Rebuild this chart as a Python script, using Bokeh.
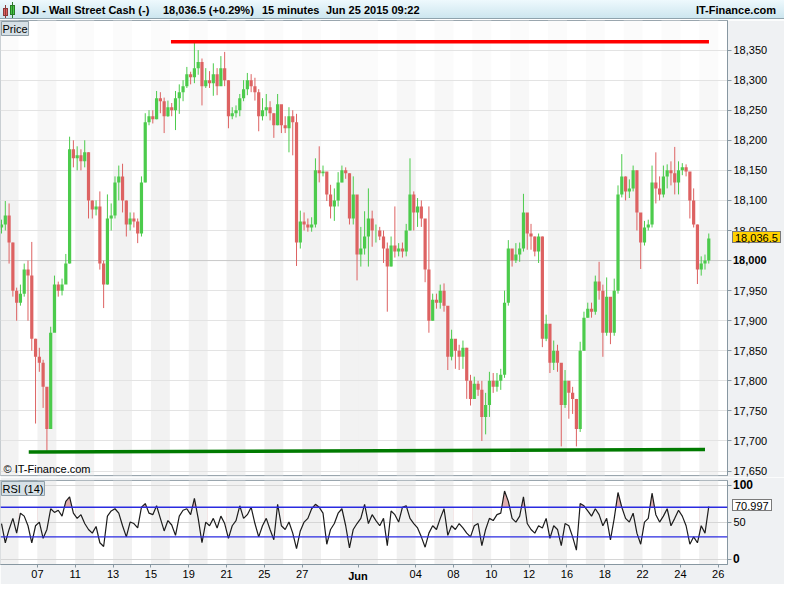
from bokeh.plotting import figure
from bokeh.models import Div, Label, Span, FixedTicker, NumeralTickFormatter, Range1d
from bokeh.layouts import column
from bokeh.embed import file_html
from bokeh.resources import INLINE

FONT = "Liberation Sans"

# ---------------- data ----------------
# calendar day numbers of the trading days shown (index -2 = May 5, 0 = May 7)
day_num = [5, 6, 7, 8, 11, 12, 13, 14, 15, 18, 19, 20, 21, 22, 25, 26, 27, 28, 29,
           1, 2, 3, 4, 5, 8, 9, 10, 11, 12, 15, 16, 17, 18, 19, 22, 23, 24, 25, 26]
day_first_index = -2

tick_pos = [0, 2, 4, 6, 8, 10, 12, 14, 17, 20, 22, 24, 26, 28, 30, 32, 34, 36]
tick_lab = ["07", "11", "13", "15", "19", "21", "25", "27", "Jun", "04", "08", "10",
            "12", "16", "18", "22", "24", "26"]

price_ticks = [17650, 17700, 17750, 17800, 17850, 17900, 17950, 18000,
               18050, 18100, 18150, 18200, 18250, 18300, 18350]
rsi_ticks = [0, 50, 100]

bar_start = -1.9          # first bar position (trading days from May 7)
bars_per_day = 5
first_open = 18055

closes = [18060, 18075,
          18030, 17950, 17930, 17945, 17985, 17975, 17870, 17840, 17830, 17790,
          17720, 17880, 17960, 17950, 17960, 17995, 18185, 18170, 18175, 18165,
          18180, 18100, 18085, 18090, 17995, 17960, 18070, 18075, 18130, 18140,
          18100, 18060, 18070, 18065, 18045, 18130, 18230, 18240, 18235, 18270,
          18265, 18240, 18255, 18250, 18270, 18280, 18290, 18310, 18305, 18320,
          18330, 18290, 18300, 18295, 18310, 18290, 18320, 18300, 18240, 18245,
          18250, 18270, 18285, 18300, 18290, 18280, 18240, 18250, 18255, 18245,
          18225, 18260, 18225, 18220, 18240, 18230, 18030, 18065, 18060, 18055,
          18060, 18150, 18145, 18148, 18110, 18090, 18100, 18130, 18150, 18145,
          18070, 18110, 18010, 18020, 18040, 18070, 18050, 18050, 18040, 18020,
          17990, 18025, 18015, 18020, 18015, 18050, 18110, 18080, 18090, 18070,
          17985, 17900, 17935, 17930, 17950, 17925, 17840, 17870, 17850, 17840,
          17855, 17800, 17770, 17795, 17785, 17740, 17760, 17800, 17790, 17800,
          17810, 17930, 18020, 18000, 18010, 18020, 18080, 18045, 18040, 18015,
          18040, 17870, 17895, 17830, 17850, 17830, 17760, 17800, 17780, 17770,
          17720, 17850, 17905, 17920, 17915, 17965, 17950, 17880, 17940, 17880,
          17950, 18110, 18140, 18115, 18120, 18150, 18080, 18030, 18055, 18060,
          18130, 18120, 18110, 18140, 18150, 18145, 18130, 18150, 18155, 18148,
          18100, 18060, 17985, 17995, 18000, 18036.5]

highs = [18068, 18099,
         18095, 18030, 17955, 17960, 17995, 18000, 18031, 17870, 17855, 17835,
         17760, 17890, 17975, 17965, 17970, 18011, 18206, 18200, 18190, 18185,
         18200, 18180, 18100, 18100, 18115, 18000, 18110, 18095, 18140, 18158,
         18161, 18100, 18080, 18080, 18070, 18140, 18245, 18250, 18250, 18282,
         18280, 18271, 18266, 18262, 18282, 18293, 18300, 18322, 18314, 18362,
         18350, 18336, 18320, 18315, 18328, 18320, 18340, 18347, 18300, 18255,
         18258, 18277, 18300, 18312, 18310, 18304, 18285, 18270, 18277, 18265,
         18245, 18277, 18245, 18240, 18255, 18250, 18244, 18083, 18080, 18070,
         18072, 18170, 18190, 18158, 18140, 18126, 18120, 18147, 18158, 18155,
         18145, 18140, 18100, 18056, 18082, 18120, 18083, 18060, 18056, 18050,
         18030, 18040, 18090, 18029, 18030, 18061, 18170, 18115, 18104, 18100,
         18020, 18090, 17945, 17945, 17960, 17962, 17915, 17885, 17865, 17860,
         17867, 17855, 17810, 17807, 17800, 17800, 17780, 17815, 17813, 17813,
         17820, 17950, 18034, 18015, 18029, 18030, 18111, 18075, 18061, 18040,
         18045, 18040, 17910, 17880, 17867, 17860, 17820, 17818, 17795, 17790,
         17770, 17865, 17915, 17930, 17930, 17975, 17998, 17960, 17972, 17920,
         17970, 18125, 18177, 18140, 18135, 18158, 18150, 18070, 18066, 18068,
         18158, 18180, 18140, 18158, 18160, 18165, 18189, 18165, 18162, 18160,
         18145, 18120, 18060, 18007, 18010, 18045]

lows = [18045, 18050,
        17995, 17940, 17900, 17925, 17940, 17900, 17850, 17729, 17815, 17755,
        17684, 17720, 17910, 17940, 17942, 17965, 17995, 18155, 18150, 18150,
        18155, 18070, 18070, 18075, 17985, 17921, 17960, 18050, 18070, 18100,
        18080, 18040, 18050, 18055, 18029, 18040, 18130, 18225, 18228, 18235,
        18245, 18212, 18239, 18240, 18217, 18244, 18265, 18287, 18293, 18295,
        18309, 18258, 18287, 18287, 18274, 18275, 18293, 18290, 18220, 18235,
        18238, 18240, 18265, 18275, 18280, 18266, 18215, 18233, 18240, 18233,
        18204, 18225, 18212, 18212, 18180, 18175, 17991, 18020, 18050, 18048,
        18048, 18055, 18130, 18140, 18099, 18070, 18066, 18090, 18130, 18136,
        18060, 18060, 17967, 17990, 18010, 17990, 18023, 18030, 18034, 17996,
        17915, 17990, 18005, 18007, 18005, 18007, 18050, 18050, 18056, 18056,
        17964, 17880, 17900, 17920, 17920, 17915, 17818, 17834, 17820, 17818,
        17820, 17770, 17759, 17770, 17775, 17700, 17711, 17740, 17780, 17782,
        17785, 17805, 17925, 17990, 17996, 17998, 18015, 18018, 18018, 18007,
        17996, 17856, 17866, 17813, 17818, 17815, 17691, 17755, 17737, 17745,
        17691, 17715, 17850, 17905, 17905, 17910, 17935, 17840, 17875, 17861,
        17875, 17945, 18105, 18100, 18104, 18115, 18050, 17986, 18025, 18050,
        18055, 18095, 18100, 18105, 18120, 18125, 18110, 18110, 18142, 18140,
        18070, 18055, 17961, 17975, 17985, 17995]

rsi = [48, 22,
       40, 55, 35, 62, 58, 45, 22, 45, 50, 28, 40, 68, 63, 66, 58, 78, 84, 62, 55, 60,
       48, 40, 35, 44, 22, 17, 58, 65, 68, 62, 45, 30, 50, 48, 42, 70, 75, 62, 60, 72,
       55, 38, 52, 46, 32, 58, 66, 68, 60, 82, 55, 22, 50, 45, 55, 42, 58, 48, 28, 45,
       52, 72, 55, 60, 70, 48, 30, 45, 55, 40, 26, 74, 45, 40, 50, 35, 14, 38, 50, 55,
       68, 74, 70, 62, 20, 40, 48, 62, 68, 45, 15, 40, 48, 55, 74, 48, 60, 52, 45, 55,
       18, 65, 60, 50, 70, 72, 55, 48, 42, 30, 16, 35, 45, 40, 55, 68, 32, 45, 40, 48,
       42, 35, 30, 45, 48, 18, 40, 55, 52, 60, 62, 92, 78, 55, 50, 58, 84, 48, 40, 35,
       45, 42, 55, 28, 45, 40, 18, 48, 45, 30, 12, 75, 72, 65, 58, 68, 60, 45, 55, 26,
       55, 90, 70, 55, 50, 62, 35, 20, 50, 55, 89, 60, 50, 58, 68, 45, 55, 66, 58, 45,
       20, 30, 22, 45, 35, 70.997]

# drawn trend lines (trading-day position, price)
resist_x = [7.06, 35.51]
resist_y = [18364, 18364]
support_x = [-0.46, 35.30]
support_y = [17681.5, 17686]

last_price = 18036.5
last_rsi = 70.997

# ---------------- styling / geometry ----------------
UP = "#4ccb4c"
DOWN = "#dd6262"
BAND = "#f2f2f2"
BORDER = "#eff1f3"
AXIS = "#8797a1"

W = 784
HEAD_H = 20
PRICE_FRAME_H = 455
PRICE_GAP = 2
RSI_TOP = 3
RSI_FRAME_H = 84
RSI_BOTTOM = 20
RIGHT_W = 57
FRAME_W = W - RIGHT_W

n = len(closes)
bar_x = [bar_start + i / bars_per_day for i in range(n)]
opens = [first_open] + closes[:-1]
colors = [UP if c >= o else DOWN for o, c in zip(opens, closes)]
day_idx = [day_first_index + k for k in range(len(day_num))]
grey_days = [d for d, m in zip(day_idx, day_num) if m % 2 == 1]

X0, X1 = -1.954, 36.49
PY0, PY1 = 17642.6, 18399.2
RY0, RY1 = -7.4, 106.2
x_rng = Range1d(X0, X1)


def style_axis(ax):
    ax.axis_line_color = AXIS
    ax.major_tick_line_color = AXIS
    ax.minor_tick_line_color = None
    ax.major_tick_out = 4
    ax.major_tick_in = 0
    ax.major_label_text_font = FONT
    ax.major_label_text_font_size = "11px"
    ax.major_label_text_color = "#000000"
    ax.major_label_standoff = 2


def lab(text, x, y, **kw):
    base = dict(text=text, x=x, y=y, text_font=FONT, text_font_size="11px",
                text_color="#000000")
    base.update(kw)
    return Label(**base)


# page positions (px) of things drawn over the scales, from the same ranges
price_px = PRICE_FRAME_H / (PY1 - PY0)
rsi_px = RSI_FRAME_H / (RY1 - RY0)
day_px = FRAME_W / (X1 - X0)
rsi_frame_top = HEAD_H + PRICE_FRAME_H + PRICE_GAP + RSI_TOP


def y_price(v):
    return HEAD_H + (PY1 - v) * price_px


def y_rsi(v):
    return rsi_frame_top + (RY1 - v) * rsi_px


label_left = FRAME_W + 4 + 2
box_h = 14
box_style = ("position:absolute;left:%dpx;top:%dpx;height:%dpx;line-height:%dpx;"
             "padding:0 2px;border:1px solid #7a7a7a;font-weight:normal;font-size:11px;")
bold_style = ("position:absolute;left:%dpx;top:%dpx;line-height:14px;"
              "font-weight:bold;font-size:%s;")
jun_x = (tick_pos[tick_lab.index("Jun")] - X0) * day_px
jun_top = rsi_frame_top + RSI_FRAME_H + 3 + 2

overlay = (
    '<span style="' + box_style % (label_left - 1, round(y_price(last_price) - box_h / 2), box_h - 2, box_h - 2)
    + 'background:#ffd200;">18,036.5</span>'
    + '<span style="' + box_style % (label_left - 1, round(y_rsi(last_rsi) - box_h / 2), box_h - 2, box_h - 2)
    + 'background:#ffffff;">70.997</span>'
    + '<span style="' + bold_style % (label_left, round(y_price(18000) - 7), "11px") + '">18,000</span>'
    + '<span style="' + bold_style % (label_left, round(y_rsi(100) - 7), "12px") + '">100</span>'
    + '<span style="' + bold_style % (label_left, round(y_rsi(0) - 7), "12px") + '">0</span>'
    + '<span style="' + bold_style % (round(jun_x - 20), jun_top, "11px")
    + 'width:40px;text-align:center;">Jun</span>'
)

# ---------------- header (with the value boxes overlaid on the scales) ----------------
header_html = (
    '<div style="position:relative;width:784px;height:19px;'
    'background:linear-gradient(#eef9fd,#cde6ef);border-bottom:1px solid #8fa3ad;'
    "font-family:'Liberation Sans',Arial,sans-serif;font-weight:bold;font-size:11px;"
    'color:#000;line-height:20px;white-space:nowrap;">'
    '<span style="position:absolute;left:3px;top:8px;width:5px;height:8px;background:#e06060;border:1px solid #8a3a3a;"></span>'
    '<span style="position:absolute;left:5px;top:5px;width:1px;height:13px;background:#8a3a3a;"></span>'
    '<span style="position:absolute;left:10px;top:5px;width:5px;height:10px;background:#44cc44;border:1px solid #2a7a2a;"></span>'
    '<span style="position:absolute;left:12px;top:2px;width:1px;height:16px;background:#2a7a2a;"></span>'
    '<span style="position:absolute;left:22px;top:0;">DJI - Wall Street Cash (-)</span>'
    '<span style="position:absolute;left:163px;top:0;">18,036.5 (+0.29%)</span>'
    '<span style="position:absolute;left:262px;top:0;">15 minutes</span>'
    '<span style="position:absolute;left:326px;top:0;">Jun 25 2015 09:22</span>'
    '<span style="position:absolute;right:8px;top:0;">IT-Finance.com</span>'
    + overlay +
    '</div>'
)
header = Div(text=header_html, width=W, height=HEAD_H, margin=0,
             styles={"position": "relative", "z-index": "10", "overflow": "visible"})

# ---------------- price panel ----------------
p = figure(width=W, height=PRICE_FRAME_H + PRICE_GAP, x_range=x_rng, y_range=Range1d(PY0, PY1),
           output_backend="svg", toolbar_location=None,
           x_axis_location=None, y_axis_location="right",
           min_border_left=0, min_border_right=RIGHT_W, min_border_top=0,
           min_border_bottom=PRICE_GAP)
p.background_fill_color = "white"
p.border_fill_color = BORDER
p.outline_line_color = "#9aa6ae"
p.xgrid.visible = False
p.ygrid.ticker = FixedTicker(ticks=price_ticks)
p.ygrid.grid_line_color = "#e3e3e3"

for lo, hi, col in [(18300, PY1, "#fbfbfb"), (18150, 18300, "#f7f7f7"), (PY0, 18150, BAND)]:
    p.quad(left=grey_days, right=[d + 1 for d in grey_days],
           bottom=lo, top=hi, fill_color=col, line_color=None, level="image")

p.add_layout(Span(location=18000, dimension="width", line_color="#c9c9c9",
                  line_width=1, level="underlay"))

p.segment(x0=bar_x, y0=lows, x1=bar_x, y1=highs, line_color=colors, line_width=1)
p.vbar(x=bar_x, width=0.17, bottom=opens, top=closes, fill_color=colors, line_color=None)

p.line(resist_x, resist_y, line_color="#ff0000", line_width=3.5)
p.line(support_x, support_y, line_color="#007a00", line_width=3.5)

ya = p.yaxis[0]
style_axis(ya)
ya.ticker = FixedTicker(ticks=price_ticks)
ya.formatter = NumeralTickFormatter(format="0,0")
ya.major_label_overrides = {18000: ""}

p.add_layout(lab("Price", X0, PY1, x_offset=1, y_offset=-1, text_baseline="top",
                 text_align="left", background_fill_color="#d6e0e6",
                 border_line_color="#8e9ea8", padding=1))
p.add_layout(lab("\u00a9 IT-Finance.com", X0, PY0, x_offset=3, y_offset=1,
                 text_baseline="bottom", text_align="left"))

# ---------------- RSI panel ----------------
r = figure(width=W, height=RSI_TOP + RSI_FRAME_H + RSI_BOTTOM, x_range=x_rng,
           y_range=Range1d(RY0, RY1), output_backend="svg", toolbar_location=None,
           y_axis_location="right", min_border_left=0, min_border_right=RIGHT_W,
           min_border_top=RSI_TOP, min_border_bottom=RSI_BOTTOM)
r.background_fill_color = "white"
r.border_fill_color = BORDER
r.outline_line_color = "#9aa6ae"
r.xgrid.visible = False
r.ygrid.ticker = FixedTicker(ticks=rsi_ticks)
r.ygrid.grid_line_color = "#d6d6d6"

r.quad(left=grey_days, right=[d + 1 for d in grey_days], bottom=RY0, top=RY1,
       fill_color="#f1f1f1", line_color=None, level="image")
# overbought fill between 70 and the RSI line
r.varea(x=bar_x, y1=70, y2=rsi, fill_color="#e2b0b0", level="image")
# repaint the day bands below 70 over the fill
r.quad(left=day_idx, right=[d + 1 for d in day_idx], bottom=RY0, top=70,
       fill_color=["#f1f1f1" if m % 2 == 1 else "#ffffff" for m in day_num],
       line_color=None, level="image")

r.add_layout(Span(location=70, dimension="width", line_color="#2a2ae0", line_width=1.3))
r.add_layout(Span(location=30, dimension="width", line_color="#2a2ae0", line_width=1.3))
r.line(bar_x, rsi, line_color="#1c1c1c", line_width=1.2)

xa = r.xaxis[0]
style_axis(xa)
xa.major_tick_out = 3
xa.ticker = FixedTicker(ticks=tick_pos)
xa.major_label_overrides = {t: ("" if s == "Jun" else s) for t, s in zip(tick_pos, tick_lab)}

ra = r.yaxis[0]
style_axis(ra)
ra.ticker = FixedTicker(ticks=rsi_ticks)
ra.major_label_overrides = {0: "", 100: ""}

r.add_layout(lab("RSI (14)", X0, RY1, x_offset=1, y_offset=-1, text_baseline="top",
                 text_align="left", background_fill_color="#d6e0e6",
                 border_line_color="#8e9ea8", padding=1))

layout = column(header, p, r, spacing=0)
open("out.html", "w").write(file_html(layout, INLINE))
